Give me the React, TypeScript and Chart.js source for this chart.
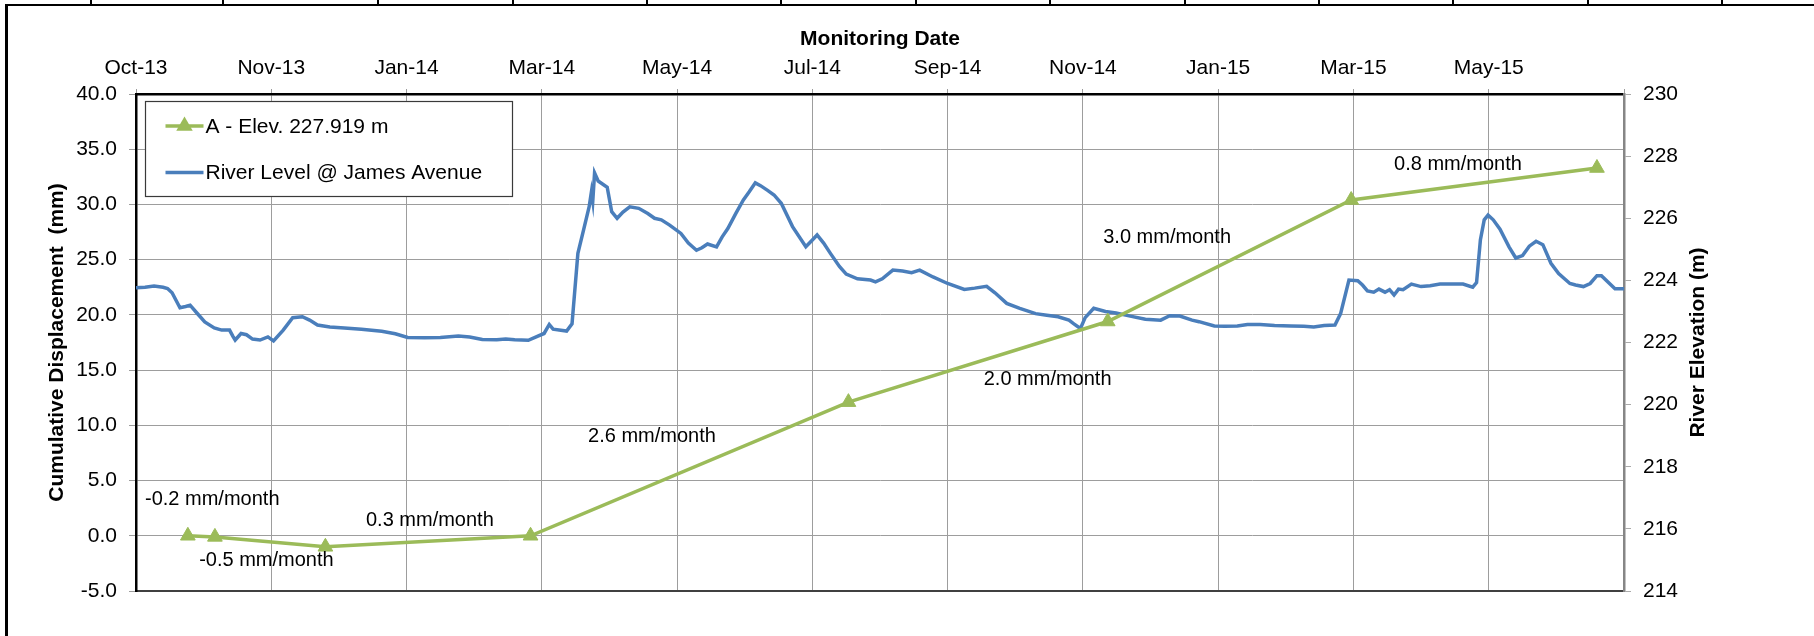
import React, { useEffect, useRef } from 'react';
import { Chart, registerables } from 'chart.js';

Chart.register(...registerables);

const FONT = '"Liberation Sans", Arial, Helvetica, sans-serif';
const GREEN = '#9BBB59';
const BLUE = '#4A7EBB';
const GRID = '#9d9d9d';

// ---- X axis: days since the axis start, one major unit = 60 days ----
const AXIS_START = '2013-10-01';
const X_MAX_DAYS = 660;
const X_STEP_DAYS = 60;
const xTickLabels = ['Oct-13', 'Nov-13', 'Jan-14', 'Mar-14', 'May-14', 'Jul-14', 'Sep-14', 'Nov-14', 'Jan-15', 'Mar-15', 'May-15', ''];
const xTitle = 'Monitoring Date';

// ---- Y axes ----
const yLeftMin = -5;
const yLeftMax = 40;
const yLeftStep = 5;
const yLeftTitle = 'Cumulative Displacement  (mm)';
const yRightMin = 214;
const yRightMax = 230;
const yRightStep = 2;
const yRightTitle = 'River Elevation (m)';

// ---- Series A: cumulative displacement (mm) ----
const dispLabel = 'A - Elev. 227.919 m';
const dispDates = ['2013-10-24', '2013-11-05', '2013-12-24', '2014-03-25', '2014-08-13', '2014-12-06', '2015-03-24', '2015-07-11'];
const dispValues = [0.0, -0.1, -1.0, 0.0, 12.1, 19.4, 30.4, 33.3];

// ---- River level @ James Avenue (m), day offsets from AXIS_START ----
const riverLabel = 'River Level @ James Avenue';
const riverDays = [
  0, 4, 8, 12, 14, 16, 19.5, 22, 24, 27,
  30.5, 34.7, 38, 41.5, 43, 44, 46.6, 49, 51.7, 55,
  58.5, 61, 65.3, 69.5, 73.8, 77, 80.5, 86, 92.4, 100,
  109, 115, 120.5, 128, 135, 143, 148, 153.6, 160, 164,
  168, 174, 178, 181, 183.3, 185, 191, 193.4, 196, 198.5,
  201, 202, 202.6, 203.4, 205, 209, 211, 213.4, 216, 219,
  223, 227, 230, 233, 236.7, 241.7, 245, 248.6, 251, 253.5,
  257.5, 260, 262.5, 266, 269.4, 272, 274.7, 277, 280.3, 283,
  286.2, 291.2, 297.1, 300, 302.1, 305, 308, 312, 315, 320,
  325.8, 328, 331, 335.7, 340, 344, 347.6, 353.5, 360, 367.4,
  372, 377.3, 381, 386.2, 392, 399, 404, 409, 413.8, 416,
  418.9, 421, 424.8, 430, 434.7, 441, 447.7, 454.5, 458.5, 463,
  468.4, 471.5, 478.3, 483, 488.5, 493, 498.6, 505, 512.3, 518,
  522.4, 527, 531.8, 534.3, 538, 541.9, 544, 546.2, 549, 551.3,
  554, 556, 558, 560, 562, 565.7, 570, 574, 578.4, 584,
  588.6, 592.9, 594.6, 596.3, 598, 599.7, 602, 605, 609, 612,
  615, 618, 621, 624, 627.6, 631, 636, 638.5, 642, 645,
  648, 650, 653.8, 656, 660,
];
const riverLevels = [
  223.76, 223.78, 223.82, 223.78, 223.74, 223.60, 223.12, 223.16, 223.20, 222.95,
  222.66, 222.47, 222.40, 222.40, 222.20, 222.08, 222.29, 222.25, 222.11, 222.08,
  222.18, 222.05, 222.40, 222.80, 222.83, 222.72, 222.56, 222.50, 222.47, 222.43,
  222.36, 222.28, 222.16, 222.15, 222.16, 222.21, 222.18, 222.10, 222.09, 222.11,
  222.09, 222.07, 222.20, 222.29, 222.58, 222.43, 222.37, 222.60, 224.87, 225.62,
  226.37, 226.85, 226.55, 227.46, 227.20, 227.00, 226.21, 226.00, 226.20, 226.37,
  226.32, 226.15, 226.00, 225.95, 225.78, 225.51, 225.20, 224.97, 225.05, 225.17,
  225.08, 225.40, 225.67, 226.15, 226.59, 226.85, 227.14, 227.05, 226.89, 226.75,
  226.48, 225.73, 225.08, 225.30, 225.46, 225.20, 224.87, 224.45, 224.20, 224.05,
  224.01, 223.95, 224.05, 224.33, 224.30, 224.25, 224.33, 224.11, 223.90, 223.71,
  223.75, 223.81, 223.60, 223.26, 223.10, 222.93, 222.88, 222.83, 222.72, 222.60,
  222.45, 222.80, 223.10, 223.00, 222.95, 222.85, 222.75, 222.72, 222.86, 222.85,
  222.72, 222.67, 222.53, 222.52, 222.53, 222.58, 222.58, 222.55, 222.53, 222.52,
  222.50, 222.55, 222.56, 222.93, 224.01, 223.99, 223.85, 223.66, 223.62, 223.72,
  223.62, 223.70, 223.53, 223.72, 223.70, 223.88, 223.80, 223.83, 223.88, 223.88,
  223.88, 223.78, 223.93, 225.30, 225.95, 226.10, 225.95, 225.65, 225.08, 224.72,
  224.80, 225.10, 225.26, 225.15, 224.55, 224.22, 223.90, 223.85, 223.80, 223.90,
  224.15, 224.15, 223.88, 223.73, 223.73,
];

// ---- Rate annotations (text left edge anchored at day / mm) ----
const rateLabels = ['-0.2 mm/month', '-0.5 mm/month', '0.3 mm/month', '2.6 mm/month', '2.0 mm/month', '3.0 mm/month', '0.8 mm/month'];
const rateDays = [4, 28, 102, 200.5, 376, 429, 558];
const rateValues = [3.3, -2.2, 1.35, 9.0, 14.15, 27.0, 33.6];

// decorative frame remnants (border of the figure)
const frameTickX = [91, 223, 378, 513, 647, 781, 916, 1050, 1185, 1319, 1453, 1588, 1722];

function daysFromStart(iso: string): number {
  const [y, m, d] = iso.split('-').map(Number);
  const [y0, m0, d0] = AXIS_START.split('-').map(Number);
  return Math.round((Date.UTC(y, m - 1, d) - Date.UTC(y0, m0 - 1, d0)) / 86400000);
}

function drawTriangle(ctx: CanvasRenderingContext2D, cx: number, cy: number, r: number, color: string) {
  ctx.beginPath();
  let a = 0;
  ctx.moveTo(cx + Math.sin(a) * r, cy - Math.cos(a) * r);
  a += (2 * Math.PI) / 3;
  ctx.lineTo(cx + Math.sin(a) * r, cy - Math.cos(a) * r);
  a += (2 * Math.PI) / 3;
  ctx.lineTo(cx + Math.sin(a) * r, cy - Math.cos(a) * r);
  ctx.closePath();
  ctx.fillStyle = color;
  ctx.fill();
}

const overlayPlugin = {
  id: 'overlay',
  afterDatasetsDraw(chart: any) {
    const { ctx, chartArea, scales } = chart;
    const x = scales.x;
    const y = scales.y;

    // rate annotations
    ctx.save();
    ctx.font = `20px ${FONT}`;
    ctx.fillStyle = '#000';
    ctx.textAlign = 'left';
    ctx.textBaseline = 'middle';
    rateLabels.forEach((t, i) => {
      ctx.fillText(t, x.getPixelForValue(rateDays[i]), y.getPixelForValue(rateValues[i]));
    });
    ctx.restore();

    // legend box
    ctx.save();
    const bx = Math.round(chartArea.left + 9) + 0.5;
    const by = Math.round(chartArea.top + 7) + 0.5;
    const bw = 367;
    const bh = 95;
    ctx.fillStyle = '#fff';
    ctx.fillRect(bx, by, bw, bh);
    ctx.strokeStyle = '#3a3a3a';
    ctx.lineWidth = 1.2;
    ctx.strokeRect(bx, by, bw, bh);
    ctx.font = `21px ${FONT}`;
    ctx.textAlign = 'left';
    ctx.textBaseline = 'middle';
    chart.data.datasets.forEach((ds: any, i: number) => {
      const cy = by + 24.5 + i * 46.5;
      const x1 = bx + 20;
      const x2 = bx + 58;
      ctx.strokeStyle = ds.borderColor;
      ctx.lineWidth = ds.borderWidth;
      ctx.beginPath();
      ctx.moveTo(x1, cy);
      ctx.lineTo(x2, cy);
      ctx.stroke();
      if (ds.pointRadius > 0) drawTriangle(ctx, (x1 + x2) / 2, cy, ds.pointRadius + 1, ds.borderColor);
      ctx.fillStyle = '#000';
      ctx.fillText(ds.label, bx + 60, cy + 1);
    });
    ctx.restore();

    // right axis title, rotated -90
    const y2 = scales.y2;
    ctx.save();
    ctx.translate(y2.right - 103 - 12.6, (chartArea.top + chartArea.bottom) / 2);
    ctx.rotate(-Math.PI / 2);
    ctx.font = `bold 21px ${FONT}`;
    ctx.fillStyle = '#000';
    ctx.textAlign = 'center';
    ctx.textBaseline = 'middle';
    ctx.fillText(yRightTitle, 0, 0);
    ctx.restore();
  },
};

export default function App() {
  const ref = useRef<HTMLCanvasElement>(null);

  useEffect(() => {
    const canvas = ref.current;
    if (!canvas) return;
    const tickFont = { family: FONT, size: 21 };
    const titleFont = { family: FONT, size: 21, weight: 'bold' as const };
    const chart = new Chart(canvas, {
      type: 'line',
      data: {
        datasets: [
          {
            label: dispLabel,
            data: dispDates.map((d, i) => ({ x: daysFromStart(d), y: dispValues[i] })),
            xAxisID: 'x',
            yAxisID: 'y',
            borderColor: GREEN,
            backgroundColor: GREEN,
            borderWidth: 3.5,
            pointStyle: 'triangle',
            pointRadius: 8.5,
            pointBorderWidth: 1,
            pointBackgroundColor: GREEN,
            pointBorderColor: GREEN,
            tension: 0,
          },
          {
            label: riverLabel,
            data: riverDays.map((d, i) => ({ x: d, y: riverLevels[i] })),
            xAxisID: 'x',
            yAxisID: 'y2',
            borderColor: BLUE,
            backgroundColor: BLUE,
            borderWidth: 3.5,
            pointRadius: 0,
            tension: 0,
          },
        ],
      },
      options: {
        responsive: false,
        animation: false,
        devicePixelRatio: 1,
        events: [],
        layout: { padding: { left: 0, right: 0, top: 0, bottom: 25 } },
        plugins: { legend: { display: false }, tooltip: { enabled: false } },
        scales: {
          x: {
            type: 'linear',
            position: 'top',
            min: 0,
            max: X_MAX_DAYS,
            afterFit: (s: any) => { s.height = 94; },
            ticks: {
              stepSize: X_STEP_DAYS,
              autoSkip: false,
              maxRotation: 0,
              padding: 8,
              color: '#000',
              font: tickFont,
              callback: (v: any) => xTickLabels[Math.round(Number(v) / X_STEP_DAYS)] ?? '',
            },
            grid: { color: GRID, lineWidth: 1, tickLength: 5 },
            border: { color: '#000', width: 2.5 },
            title: { display: true, text: xTitle, color: '#000', font: titleFont, padding: { top: 27, bottom: 0 } },
          },
          xb: {
            type: 'linear',
            position: 'bottom',
            min: 0,
            max: X_MAX_DAYS,
            afterFit: (s: any) => { s.height = 20; },
            ticks: { display: false },
            grid: { display: false, drawTicks: false },
            border: { display: true, color: '#404040', width: 2 },
          },
          y: {
            type: 'linear',
            position: 'left',
            min: yLeftMin,
            max: yLeftMax,
            afterFit: (s: any) => { s.width = 136; },
            ticks: {
              stepSize: yLeftStep,
              padding: 12,
              color: '#000',
              font: tickFont,
              callback: (v: any) => Number(v).toFixed(1),
            },
            grid: { color: GRID, lineWidth: 1, tickLength: 7 },
            border: { color: '#000', width: 2.5 },
            title: { display: true, text: yLeftTitle, color: '#000', font: titleFont, padding: { top: 45, bottom: 0 } },
          },
          y2: {
            type: 'linear',
            position: 'right',
            min: yRightMin,
            max: yRightMax,
            afterFit: (s: any) => { s.width = 190; },
            ticks: { stepSize: yRightStep, padding: 12, color: '#000', font: tickFont },
            grid: { drawOnChartArea: false, color: '#aaaaaa', lineWidth: 1, tickLength: 7 },
            border: { color: '#868686', width: 2.5 },
          },
        },
      } as any,
      plugins: [overlayPlugin],
    });
    return () => chart.destroy();
  }, []);

  return (
    <div style={{ position: 'absolute', left: 0, top: 0, width: 1814, height: 636, background: '#fff', overflow: 'hidden' }}>
      <canvas ref={ref} width={1814} height={636} style={{ display: 'block', position: 'absolute', left: 0, top: 0 }} />
      <div style={{ position: 'absolute', left: 5, top: 4, width: 1809, height: 2, background: '#000' }} />
      <div style={{ position: 'absolute', left: 5, top: 4, width: 3, height: 632, background: '#000' }} />
      {frameTickX.map((fx) => (
        <div key={fx} style={{ position: 'absolute', left: fx - 1, top: 0, width: 2, height: 5, background: '#000' }} />
      ))}
    </div>
  );
}
